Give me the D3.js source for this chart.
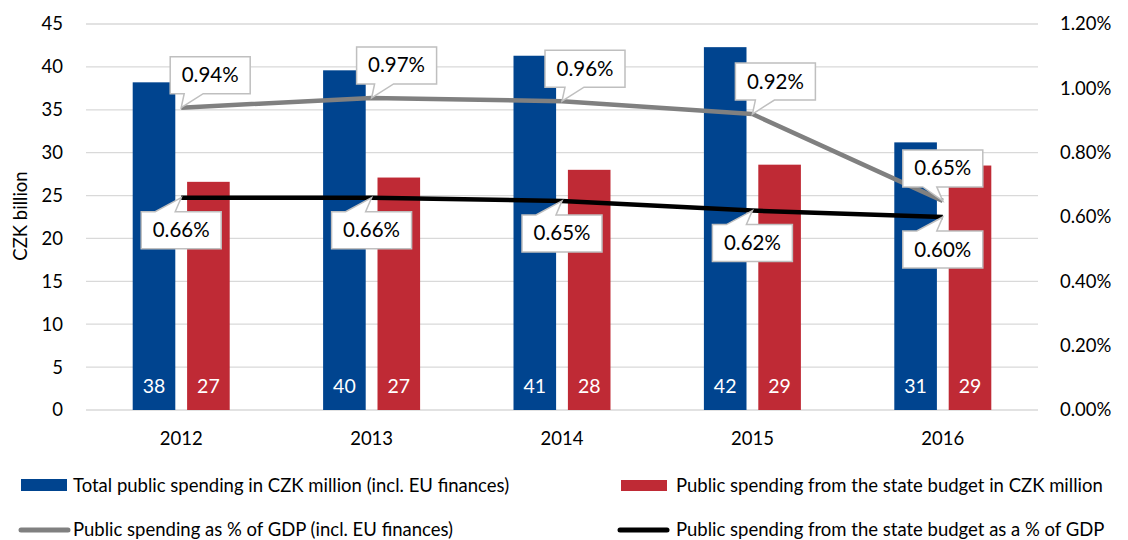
<!DOCTYPE html>
<html><head><meta charset="utf-8">
<script src="https://cdn.jsdelivr.net/npm/d3@7"></script>
<style>body{margin:0;background:#fff} svg{display:block} text{font-family:Lato,'Open Sans',sans-serif;fill:#000}</style>
</head><body><svg id="c" width="1128" height="540"></svg>
<script>
// ---- data ----
const years = ["2012", "2013", "2014", "2015", "2016"];
const totalSpending = [38.2, 39.6, 41.3, 42.3, 31.2];   // CZK billion
const stateSpending = [26.6, 27.1, 28.0, 28.6, 28.5];   // CZK billion
const pctTotal = [0.94, 0.97, 0.96, 0.92, 0.65];        // % of GDP
const pctState = [0.66, 0.66, 0.65, 0.62, 0.60];        // % of GDP
const leftTicks = [0, 5, 10, 15, 20, 25, 30, 35, 40, 45];
const rightTicks = [0, 0.2, 0.4, 0.6, 0.8, 1.0, 1.2];
const legendLabels = [
  "Total public spending in CZK million (incl. EU finances)",
  "Public spending from the state budget in CZK million",
  "Public spending as % of GDP (incl. EU finances)",
  "Public spending from the state budget as a % of GDP"
];
const axisTitle = "CZK billion";

// ---- layout (not data) ----
const greyLabelDx = [29, 25, 23, 23, 0];
const COL = {blue:"#00448F", red:"#BF2A35", grey:"#808080", black:"#000000", grid:"#D9D9D9", box:"#BFBFBF"};

const svg = d3.select("#c");
const L = 86, R = 1038, T = 24, B = 410;

const x0 = d3.scaleBand().domain(years).range([L, R]).paddingInner(0).paddingOuter(0);
const gw = 97;
const x1 = d3.scaleBand().domain(["total", "state"])
  .range([(x0.bandwidth() - gw) / 2, (x0.bandwidth() + gw) / 2]).paddingInner(0.217);
const yL = d3.scaleLinear().domain([0, 45]).range([B, T]);
const yR = d3.scaleLinear().domain([0, 1.2]).range([B, T]);
const cx = y => x0(y) + x0.bandwidth() / 2;

// gridlines
svg.append("g").selectAll("line").data(leftTicks).join("line")
  .attr("x1", L).attr("x2", R).attr("y1", d => yL(d)).attr("y2", d => yL(d))
  .attr("stroke", COL.grid).attr("stroke-width", 1.3);

// left axis labels
const yAxisL = d3.axisLeft(yL).tickValues(leftTicks).tickSize(0).tickPadding(0);
const gL = svg.append("g").attr("transform", "translate(63,0)").call(yAxisL);
gL.select(".domain").remove();
gL.selectAll("text").style("font-size", "18.5px").attr("font-family", null).attr("fill", "#000");

// right axis labels
const yAxisR = d3.axisRight(yR).tickValues(rightTicks).tickSize(0).tickPadding(0)
  .tickFormat(d => d3.format(".2f")(d) + "%");
const gR = svg.append("g").attr("transform", "translate(1060,0)").call(yAxisR);
gR.select(".domain").remove();
gR.selectAll("text").style("font-size", "18.5px").attr("fill", "#000");

// x axis labels
const xAxis = d3.axisBottom(x0).tickSize(0).tickPadding(0);
const gX = svg.append("g").attr("transform", "translate(0,432)").call(xAxis);
gX.select(".domain").remove();
gX.selectAll("text").style("font-size", "18.5px").attr("fill", "#000");

// axis title
svg.append("text").attr("transform", "translate(27,216) rotate(-90)")
  .attr("text-anchor", "middle").style("font-size", "18.5px").text(axisTitle);

// bars
const rows = years.map((y, i) => ({year: y, total: totalSpending[i], state: stateSpending[i]}));
const groups = svg.append("g").selectAll("g").data(rows).join("g")
  .attr("transform", d => `translate(${x0(d.year)},0)`);
const barSeries = [{k: "total", c: COL.blue}, {k: "state", c: COL.red}];
groups.selectAll("rect").data(d => barSeries.map(s => ({k: s.k, c: s.c, v: d[s.k]}))).join("rect")
  .attr("x", d => x1(d.k)).attr("width", x1.bandwidth())
  .attr("y", d => yL(d.v)).attr("height", d => yL(0) - yL(d.v)).attr("fill", d => d.c);
groups.selectAll("text").data(d => barSeries.map(s => ({k: s.k, v: d[s.k]}))).join("text")
  .attr("x", d => x1(d.k) + x1.bandwidth() / 2).attr("y", 393)
  .attr("text-anchor", "middle").style("font-size", "19.5px").style("fill", "#fff")
  .text(d => d3.format(".0f")(d.v));

// lines
const line = d3.line().x(d => cx(d.year)).y(d => yR(d.v));
const greyPts = years.map((y, i) => ({year: y, v: pctTotal[i]}));
const blackPts = years.map((y, i) => ({year: y, v: pctState[i]}));
svg.append("path").datum(greyPts).attr("d", line).attr("fill", "none")
  .attr("stroke", COL.grey).attr("stroke-width", 4.5).attr("stroke-linejoin", "round");
svg.append("path").datum(blackPts).attr("d", line).attr("fill", "none")
  .attr("stroke", COL.black).attr("stroke-width", 4.5).attr("stroke-linejoin", "round");

// callouts
const BW = 80, BH = 37, GAP = 14;
function callout(tx, ty, dx, above, txt) {
  const l = tx + dx - BW / 2, r = l + BW;
  let p, t, b;
  if (above) {
    b = ty - GAP; t = b - BH;
    const b1 = dx > 0 ? tx + 3 : tx - 20, b2 = dx > 0 ? tx + 22 : tx - 6;
    p = `M${l},${t}H${r}V${b}H${b2}L${tx},${ty}L${b1},${b}H${l}Z`;
  } else {
    t = ty + GAP; b = t + BH;
    const b1 = tx - 26, b2 = tx - 6;
    p = `M${l},${t}H${b1}L${tx},${ty}L${b2},${t}H${r}V${b}H${l}Z`;
  }
  const g = svg.append("g");
  g.append("path").attr("d", p).attr("fill", "#fff").attr("stroke", COL.box).attr("stroke-width", 1.5);
  g.append("text").attr("x", (l + r) / 2).attr("y", t + 25.5).attr("text-anchor", "middle")
    .style("font-size", "20.5px").text(txt);
}
const pf = v => d3.format(".2f")(v) + "%";
greyPts.forEach((d, i) => callout(cx(d.year), yR(d.v), greyLabelDx[i], true, pf(d.v)));
blackPts.forEach(d => callout(cx(d.year), yR(d.v), 0, false, pf(d.v)));

// legend
const lg = svg.append("g");
lg.append("rect").attr("x", 21).attr("y", 479).attr("width", 46).attr("height", 12).attr("fill", COL.blue);
lg.append("rect").attr("x", 621).attr("y", 480).attr("width", 46).attr("height", 11).attr("fill", COL.red);
lg.append("line").attr("x1", 21).attr("x2", 68).attr("y1", 530).attr("y2", 530)
  .attr("stroke", COL.grey).attr("stroke-width", 5).attr("stroke-linecap", "round");
lg.append("line").attr("x1", 620).attr("x2", 667).attr("y1", 530).attr("y2", 530)
  .attr("stroke", COL.black).attr("stroke-width", 5).attr("stroke-linecap", "round");
const legPos = [[73, 492], [676, 492], [73, 536], [676, 536]];
lg.selectAll("text").data(legendLabels).join("text")
  .attr("x", (d, i) => legPos[i][0]).attr("y", (d, i) => legPos[i][1])
  .style("font-size", "18.5px").text(d => d);
</script></body></html>
